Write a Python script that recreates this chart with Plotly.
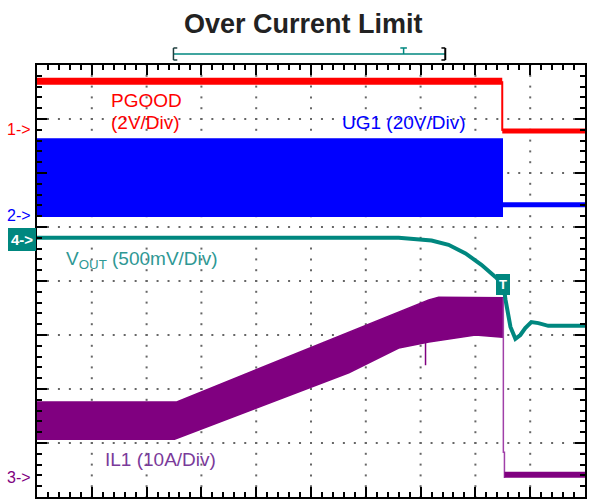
import plotly.graph_objects as go

# Screen is 10 horizontal x 8 vertical divisions; all values below are in divisions.
RED = "#FF0000"
BLUE = "#0000FF"
TEAL = "#00877F"
TEAL_TXT = "#2E9894"
PURPLE = "#800080"
PURPLE_TXT = "#7A3A9A"
FONT = "Liberation Sans, Arial, sans-serif"

FAULT_T = 8.49          # instant the over-current limit trips

# PGOOD (ch1): high, then pulled low at the fault
pgood_high_t = [0.0, 8.49]
pgood_high_v = [7.70, 7.70]
pgood_edge_t = [8.49, 8.49]
pgood_edge_v = [7.70, 6.78]
pgood_low_t = [8.49, 10.0]
pgood_low_v = [6.78, 6.78]
pgood_ground = 6.80

# UG1 (ch2): switching envelope, then gate held low
ug1_env_t = [0.0, 8.49]
ug1_env_hi = [6.63, 6.63]
ug1_env_lo = [5.20, 5.20]
ug1_off_t = [8.49, 10.0]
ug1_off_v = [5.41, 5.41]
ug1_ground = 5.22

# VOUT (ch4)
vout_t = [0.0, 6.60, 7.20, 7.51, 7.82, 8.11, 8.36, 8.51, 8.55, 8.64, 8.73,
          8.82, 8.91, 9.02, 9.15, 9.33, 10.0]
vout_v = [4.80, 4.80, 4.75, 4.67, 4.51, 4.30, 4.08, 3.93, 3.65, 3.15, 2.93,
          3.00, 3.13, 3.24, 3.22, 3.17, 3.17]
vout_ground = 4.76

# IL1 (ch3): ripple envelope of the inductor current
il1_hi_t = [0.0, 2.55, 7.15, 7.33, 8.51]
il1_hi_v = [1.76, 1.76, 3.65, 3.70, 3.69]
il1_lo_t = [0.0, 2.51, 5.69, 6.60, 7.15, 8.00, 8.49]
il1_lo_v = [1.07, 1.07, 2.30, 2.76, 2.87, 3.00, 2.96]
il1_spike_t = [7.09, 7.09]
il1_spike_v = [2.87, 2.44]
il1_drop_t = [8.51, 8.51, 8.53, 8.53]
il1_drop_v = [3.69, 0.83, 0.83, 0.35]
il1_off_t = [8.53, 10.0]
il1_off_v = [0.41, 0.41]
il1_ground = 0.37

# Acquisition window bracket above the graticule
win_start, win_trig, win_end = 2.49, 6.69, 7.45

fig = go.Figure()

# Graticule dots along every major division line
gx, gy = [], []
for i in range(1, 10):
    for k in range(0, 41):
        gx.append(i)
        gy.append(k * 0.2)
for j in range(1, 8):
    for k in range(0, 51):
        gx.append(k * 0.2)
        gy.append(j)
fig.add_trace(go.Scatter(x=gx, y=gy, mode="markers",
                         marker=dict(symbol="square", size=2, color="#666666"),
                         hoverinfo="skip", showlegend=False))

def line(x, y, color, width):
    fig.add_trace(go.Scatter(x=x, y=y, mode="lines", line=dict(color=color, width=width),
                             hoverinfo="skip", showlegend=False))

def band(t_hi, v_hi, t_lo, v_lo, color):
    xs = list(t_lo) + list(reversed(t_hi))
    ys = list(v_lo) + list(reversed(v_hi))
    fig.add_trace(go.Scatter(x=xs, y=ys, mode="lines", fill="toself", fillcolor=color,
                             line=dict(color=color, width=1.5),
                             hoverinfo="skip", showlegend=False))

# IL1
band(il1_hi_t, il1_hi_v, il1_lo_t, il1_lo_v, PURPLE)
line(il1_spike_t, il1_spike_v, PURPLE, 1.5)
line(il1_drop_t, il1_drop_v, "#A040A8", 1.5)
line(il1_off_t, il1_off_v, PURPLE, 6)

# UG1
band(ug1_env_t, ug1_env_hi, ug1_env_t, ug1_env_lo, BLUE)
line(ug1_off_t, ug1_off_v, BLUE, 5)

# PGOOD
line(pgood_high_t, pgood_high_v, RED, 7)
line(pgood_edge_t, pgood_edge_v, RED, 2)
line(pgood_low_t, pgood_low_v, RED, 5)

# VOUT
line(vout_t, vout_v, TEAL, 4)

ann = []

def label(x, y, text, color, size=19, xanchor="center"):
    ann.append(dict(x=x, y=y, xref="x", yref="y", text=text, showarrow=False,
                    xanchor=xanchor, yanchor="middle",
                    font=dict(family=FONT, size=size, color=color)))

label(1.99, 7.35, "PGOOD", RED)
label(1.98, 6.93, "(2V/Div)", RED)
label(6.70, 6.93, "UG1 (20V/Div)", BLUE)
label(0.49, 4.39, "V<sub>OUT</sub> (500mV/Div)", TEAL_TXT, xanchor="left")
label(1.20, 0.69, "IL1 (10A/Div)", PURPLE_TXT, xanchor="left")

# Channel ground markers in the left margin
for lvl, txt, col in [(pgood_ground, "1->", RED), (ug1_ground, "2->", BLUE),
                      (il1_ground, "3->", PURPLE)]:
    ann.append(dict(x=0, y=lvl, xref="x", yref="y", text=txt, showarrow=False,
                    xanchor="right", yanchor="middle", xshift=-4,
                    font=dict(family=FONT, size=16, color=col)))
ann.append(dict(x=0, y=vout_ground, xref="x", yref="y", text="<b>4-></b>", showarrow=False,
                xanchor="right", yanchor="middle", xshift=-1,
                bgcolor=TEAL, bordercolor=TEAL, borderpad=2,
                font=dict(family=FONT, size=15, color="white")))

# Trigger marker on VOUT
ann.append(dict(x=vout_t[7], y=vout_v[7], xref="x", yref="y", text="<b>T</b>",
                showarrow=False, xanchor="center", yanchor="middle",
                bgcolor=TEAL, bordercolor=TEAL, borderpad=2,
                font=dict(family=FONT, size=13, color="white")))

# Title
ann.append(dict(x=0.487, y=1.0, xref="paper", yref="paper", yshift=41, text="<b>Over Current Limit</b>",
                showarrow=False, xanchor="center", yanchor="middle",
                font=dict(family=FONT, size=27, color="#222222")))

# Window bracket (paper y above the plot area)
yb = 1.0255
ytop, ybot = 1.0394, 1.0116
shapes = [
    dict(type="line", xref="x", yref="paper", x0=win_start, x1=win_end, y0=yb, y1=yb,
         line=dict(color=TEAL, width=1.5)),
    dict(type="line", xref="x", yref="paper", x0=win_start, x1=win_start, y0=ybot, y1=ytop,
         line=dict(color="#1F3F3F", width=1.5)),
    dict(type="line", xref="x", yref="paper", x0=win_start, x1=win_start + 0.07, y0=ytop, y1=ytop,
         line=dict(color="#1F3F3F", width=1.5)),
    dict(type="line", xref="x", yref="paper", x0=win_start, x1=win_start + 0.07, y0=ybot, y1=ybot,
         line=dict(color="#1F3F3F", width=1.5)),
    dict(type="line", xref="x", yref="paper", x0=win_end, x1=win_end, y0=ybot, y1=ytop,
         line=dict(color="black", width=2)),
    dict(type="line", xref="x", yref="paper", x0=win_end - 0.07, x1=win_end, y0=ytop, y1=ytop,
         line=dict(color="black", width=1.5)),
    dict(type="line", xref="x", yref="paper", x0=win_end - 0.07, x1=win_end, y0=ybot, y1=ybot,
         line=dict(color="black", width=1.5)),
    dict(type="line", xref="x", yref="paper", x0=win_trig, x1=win_trig, y0=yb, y1=ytop,
         line=dict(color=TEAL, width=1.5)),
    dict(type="line", xref="x", yref="paper", x0=win_trig - 0.06, x1=win_trig + 0.06, y0=ytop, y1=ytop,
         line=dict(color=TEAL, width=1.5)),
]

axis_common = dict(showline=True, linecolor="black", linewidth=2, mirror="allticks",
                   ticks="inside", ticklen=10, tickwidth=1.5, tickcolor="black",
                   showticklabels=False, showgrid=False, zeroline=False, tick0=0, dtick=1,
                   minor=dict(ticks="inside", ticklen=5, tickwidth=1.5, tickcolor="black",
                              dtick=0.2, tick0=0, showgrid=False))

fig.update_layout(
    width=589, height=499,
    margin=dict(l=37, r=2, t=65, b=2),
    paper_bgcolor="white", plot_bgcolor="white",
    xaxis=dict(range=[0, 10], **axis_common),
    yaxis=dict(range=[0, 8], **axis_common),
    annotations=ann, shapes=shapes, showlegend=False,
)

fig.write_html("out.html")
